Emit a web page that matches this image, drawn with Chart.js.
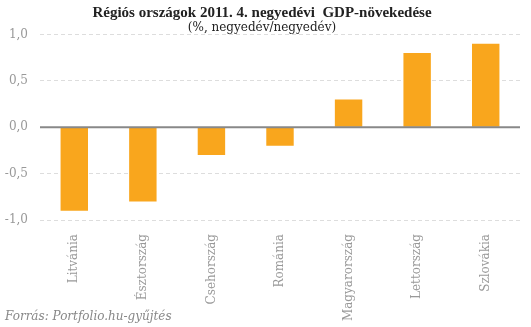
<!DOCTYPE html>
<html><head><meta charset="utf-8">
<script src="https://cdn.jsdelivr.net/npm/chart.js@4"></script>
<style>html,body{margin:0;padding:0;background:#fff;}canvas{display:block;}</style>
</head><body>
<canvas id="c" width="531" height="327"></canvas>
<script>
const categories = ["Litvánia","Észtország","Csehország","Románia","Magyarország","Lettország","Szlovákia"];
const gdpGrowth = [-0.9, -0.8, -0.3, -0.2, 0.3, 0.8, 0.9];
const yTicks = [-1.0, -0.5, 0.0, 0.5, 1.0];
const titleText = "Régiós országok 2011. 4. negyedévi  GDP-növekedése";
const subtitleText = "(%, negyedév/negyedév)";
const sourceText = "Forrás: Portfolio.hu-gyűjtés";

const SERIF = "'DejaVu Serif', 'Liberation Serif', serif";
const TSERIF = "'Liberation Serif', 'DejaVu Serif', serif";

const extras = {
  id: 'extras',
  afterDatasetsDraw(chart) {
    const {ctx, chartArea, scales} = chart;
    const y0 = scales.y.getPixelForValue(0);
    ctx.save();
    ctx.strokeStyle = '#888';
    ctx.lineWidth = 2;
    ctx.beginPath();
    ctx.moveTo(chartArea.left, y0);
    ctx.lineTo(chartArea.right, y0);
    ctx.stroke();
    ctx.restore();
  },
  afterDraw(chart) {
    const {ctx} = chart;
    ctx.save();
    ctx.font = "italic 12px " + SERIF;
    ctx.fillStyle = '#888';
    ctx.textBaseline = 'alphabetic';
    ctx.textAlign = 'left';
    ctx.fillText(sourceText, 5, 320);
    ctx.restore();
  }
};

new Chart(document.getElementById('c'), {
  type: 'bar',
  data: {
    labels: categories,
    datasets: [{
      data: gdpGrowth,
      backgroundColor: '#f9a61d',
      borderWidth: 0,
      barPercentage: 0.4,
      categoryPercentage: 1.0
    }]
  },
  options: {
    responsive: false,
    animation: false,
    layout: {padding: {left: 4, right: 11, top: 0, bottom: 0}},
    plugins: {
      legend: {display: false},
      tooltip: {enabled: false},
      title: {
        display: true, text: titleText, color: '#222',
        font: {family: TSERIF, size: 15, weight: 'bold', lineHeight: 1.15},
        padding: {top: 4, bottom: 0}
      },
      subtitle: {
        display: true, text: subtitleText, color: '#222',
        font: {family: SERIF, size: 12, weight: 'normal', lineHeight: 1.1},
        padding: {top: 0, bottom: 0}
      }
    },
    scales: {
      x: {
        grid: {display: false},
        border: {display: false},
        afterFit(scale) { scale.height = 107; },
        ticks: {
          minRotation: 90, maxRotation: 90, autoSkip: false, padding: 6,
          color: '#999', font: {family: SERIF, size: 12}
        }
      },
      y: {
        min: -1, max: 1,
        afterBuildTicks(scale) { scale.ticks = yTicks.map(v => ({value: v})); },
        afterFit(scale) { scale.width = 36; },
        grid: {color: '#ddd', lineWidth: 1, drawTicks: false},
        border: {display: false, dash: [4, 3]},
        ticks: {
          padding: 12, color: '#999', font: {family: SERIF, size: 12},
          callback: v => v.toFixed(1).replace('.', ',')
        }
      }
    }
  },
  plugins: [extras]
});
</script>
</body></html>
